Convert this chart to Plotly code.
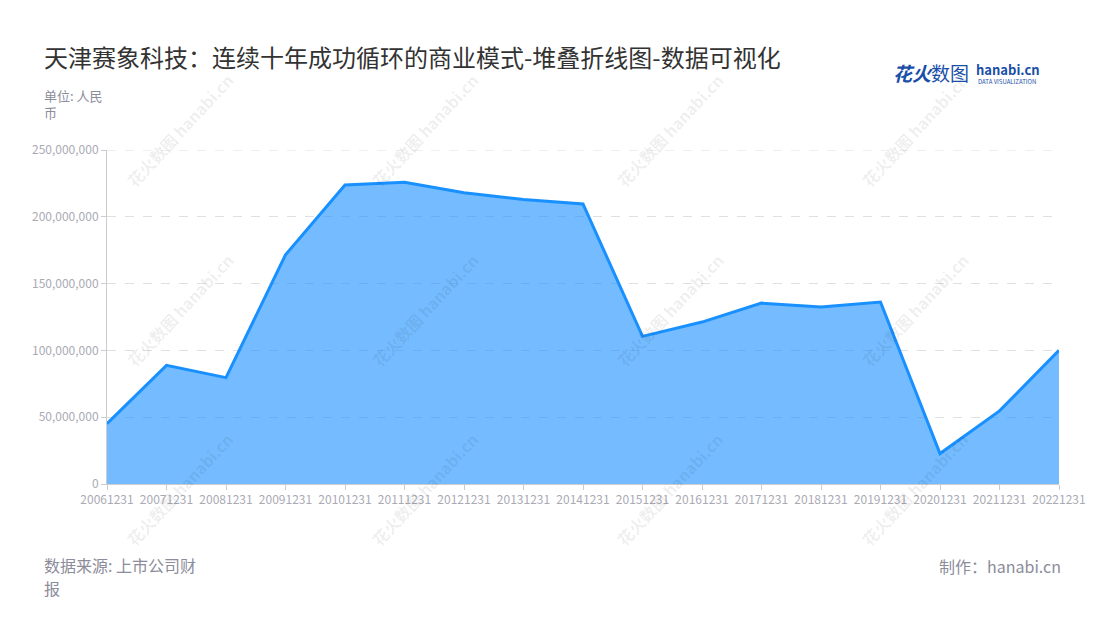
import plotly.graph_objects as go

categories = ["20061231", "20071231", "20081231", "20091231", "20101231", "20111231",
              "20121231", "20131231", "20141231", "20151231", "20161231", "20171231",
              "20181231", "20191231", "20201231", "20211231", "20221231"]
values = [45.2e6, 88.8e6, 79.6e6, 171.5e6, 223.8e6, 225.9e6, 218.0e6, 213.0e6, 209.6e6,
          110.5e6, 121.2e6, 135.4e6, 132.4e6, 136.2e6, 22.8e6, 54.7e6, 100.0e6]
y_ticks = [0, 50e6, 100e6, 150e6, 200e6, 250e6]
y_tick_labels = ["0", "50,000,000", "100,000,000", "150,000,000", "200,000,000", "250,000,000"]

title = "天津赛象科技：连续十年成功循环的商业模式-堆叠折线图-数据可视化"
FONT = "Noto Sans CJK SC, Noto Sans, sans-serif"

# page body has an 8px margin; figure is sized so that it still fills the 1100x620 window
W, H = 1092, 612
L, R, T, B = 99, 41, 142, 135.5
PW, PH = W - L - R, H - T - B


def px(x, y):
    """window pixel -> paper coords"""
    return (x - 8 - L) / PW, 1 - (y - 8 - T) / PH


fig = go.Figure()
fig.add_trace(go.Scatter(
    x=list(range(len(categories))), y=values, mode="lines",
    line=dict(color="#1890ff", width=3),
    fill="tozeroy", fillcolor="rgba(24,144,255,0.6)",
    hoverinfo="x+y",
))

fig.update_layout(
    width=W, height=H,
    paper_bgcolor="white", plot_bgcolor="white",
    margin=dict(l=L, r=R, t=T, b=B),
    showlegend=False,
    font=dict(family=FONT, color="#aaaab4", size=12),
    xaxis=dict(
        range=[0, len(categories) - 1],
        tickmode="array", tickvals=list(range(len(categories))), ticktext=categories,
        showgrid=False, zeroline=False,
        showline=True, linecolor="#cccccc", linewidth=1,
        ticks="outside", ticklen=5, tickcolor="#cccccc",
        tickfont=dict(size=12, color="#aaaab4"),
    ),
    yaxis=dict(
        range=[0, 250e6],
        tickmode="array", tickvals=y_ticks, ticktext=y_tick_labels,
        showgrid=True, gridcolor="#e0e0e0", griddash="dash", gridwidth=1,
        zeroline=False,
        showline=True, linecolor="#cccccc", linewidth=1,
        ticks="outside", ticklen=5, tickcolor="#cccccc",
        tickfont=dict(size=12, color="#aaaab4"),
    ),
)

# top gridline at the range edge
fig.add_shape(type="line", xref="paper", yref="y", x0=0, x1=1, y0=y_ticks[-1], y1=y_ticks[-1],
              line=dict(color="#e0e0e0", width=1, dash="dash"), layer="below")

# watermarks
for cy in [130, 310, 490]:
    for cx in [180, 425, 670, 915]:
        x, y = px(cx, cy)
        fig.add_annotation(text="<b>花火数图</b> <b>hanabi.cn</b>", xref="paper", yref="paper",
                           x=x, y=y, xanchor="center", yanchor="middle", showarrow=False,
                           textangle=-47,
                           font=dict(family=FONT, size=16, color="rgba(0,0,0,0.08)"))


def text(t, x, y, size, color, anchor="left", **kw):
    xx, yy = px(x, y)
    fig.add_annotation(text=t, xref="paper", yref="paper", x=xx, y=yy,
                       xanchor=anchor, yanchor="middle", showarrow=False, align=anchor,
                       font=dict(family=FONT, size=size, color=color), **kw)


text(title, 42, 56, 24, "#333333")
text("单位: 人民<br>币", 42, 104, 13, "#8c8c9a")
text("数据来源: 上市公司财", 42, 566, 16, "#8c8c9a")
text("报", 42, 589, 16, "#8c8c9a")
text("制作：hanabi.cn", 1063, 567, 16, "#8c8c9a", anchor="right")

# logo (as text)
text("<b><i>花火</i></b>数图", 891, 72, 19, "#1a4fa8")
text("<b>hanabi.cn</b>", 974, 69, 13, "#1a4fa8")
text("DATA VISUALIZATION", 976, 81, 6, "#1a4fa8")

fig.write_html("out.html")
